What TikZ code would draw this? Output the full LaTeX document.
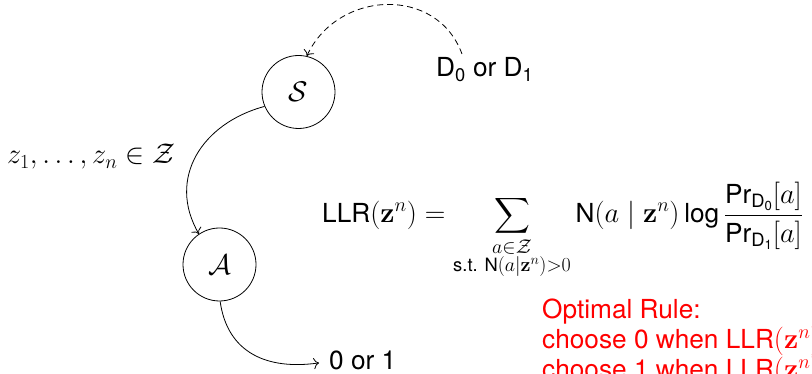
\RequirePackage{fix-cm}
\documentclass[tikz,border=0pt]{standalone}
\usepackage{amsmath}
\usepackage[no-math]{fontspec}
\setmainfont{TeX Gyre Heros}[Scale=0.92]
\usetikzlibrary{arrows.meta}
\begin{document}
\begin{tikzpicture}[x=1pt,y=1pt,
  every node/.style={font=\fontsize{28.5}{30}\selectfont, inner sep=0pt},
  state/.style={circle, draw, minimum size=73pt, line width=0.8pt},
  conn/.style={-{To[scale=1.6]}, line width=0.8pt},
  dashconn/.style={conn, dash pattern=on 6pt off 4pt}]
\useasboundingbox (0,0) rectangle (812,374);
\clip (0,0) rectangle (812,374);
\node[state] (S) at (298.5,282) {$\mathcal{S}$};
\node[state] (A) at (219.5,109.5) {$\mathcal{A}$};
\node[anchor=base west] (D) at (436,297) {D$_{\text{0}}$ or D$_{\text{1}}$};
\coordinate (ds) at (462,320);
\node[anchor=base west] (Z) at (7,210) {$z_1,\ldots,z_n\in\mathcal{Z}$};
\node[anchor=base west, inner xsep=10pt] (O) at (319,4) {0 or 1};
\node[anchor=base west] (F) at (322,151) {$\displaystyle \text{LLR}(\mathbf{z}^n) = \sum_{\substack{a\in\mathcal{Z}\\ \text{s.t. N}(a|\mathbf{z}^n)>0}} \text{N}(a\mid\mathbf{z}^n)\,\text{log}\,\frac{\text{Pr}_{\text{D}_{\text{0}}}[a]}{\text{Pr}_{\text{D}_{\text{1}}}[a]}$};
\node[anchor=base west, align=left, text=red] (R) at (542,-5) {Optimal Rule:\\choose 0 when LLR$(\mathbf{z}^n)\ge 0$\\choose 1 when LLR$(\mathbf{z}^n)<0$};
\draw[dashconn] (ds) to[out=110,in=65,looseness=1.2] (S.77);
\draw[conn] (S.203) to[out=195,in=120,looseness=1.15] (A.124);
\draw[conn] (A.271) to[out=-82,in=188,looseness=1.15] ([yshift=-2pt]O.west);
\end{tikzpicture}
\end{document}
